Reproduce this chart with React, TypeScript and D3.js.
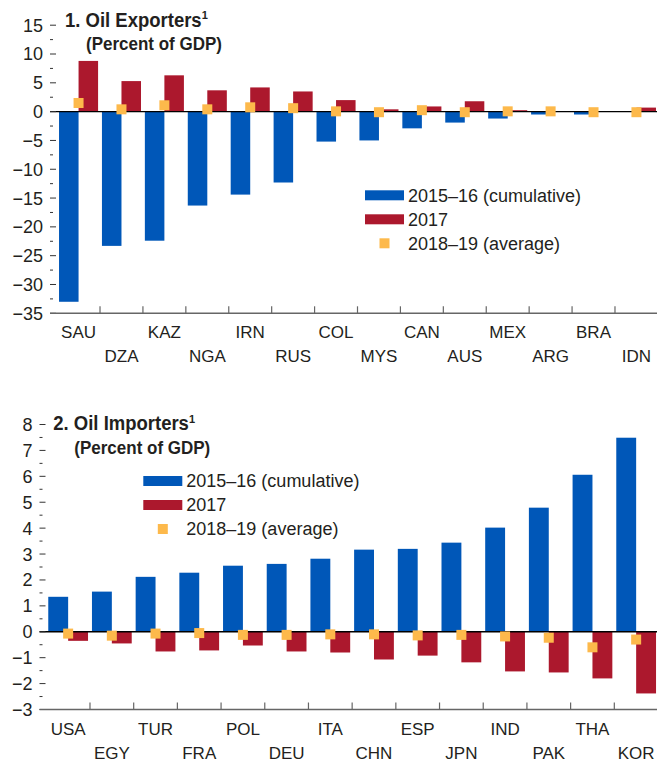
import * as d3 from 'd3';

const exporters = ['SAU', 'DZA', 'KAZ', 'NGA', 'IRN', 'RUS', 'COL', 'MYS', 'CAN', 'AUS', 'MEX', 'ARG', 'BRA', 'IDN'];
const exp1516 = [-33.0, -23.3, -22.4, -16.3, -14.4, -12.3, -5.2, -5.0, -2.9, -1.9, -1.2, -0.5, -0.5, 0];
const exp2017 = [8.8, 5.3, 6.3, 3.7, 4.2, 3.5, 2.0, 0.4, 0.9, 1.8, 0.25, 0.1, 0, 0.7];
const exp1819 = [1.5, 0.4, 1.1, 0.4, 0.75, 0.6, 0.05, -0.1, 0.25, -0.1, 0.05, 0.05, -0.1, -0.1];

const importers = ['USA', 'EGY', 'TUR', 'FRA', 'POL', 'DEU', 'ITA', 'CHN', 'ESP', 'JPN', 'IND', 'PAK', 'THA', 'KOR'];
const imp1516 = [1.35, 1.55, 2.12, 2.28, 2.55, 2.62, 2.82, 3.17, 3.2, 3.44, 4.02, 4.79, 6.06, 7.49];
const imp2017 = [-0.35, -0.45, -0.76, -0.72, -0.53, -0.76, -0.8, -1.07, -0.92, -1.18, -1.53, -1.57, -1.8, -2.38];
const imp1819 = [-0.07, -0.15, -0.07, -0.05, -0.12, -0.12, -0.1, -0.1, -0.14, -0.12, -0.18, -0.23, -0.6, -0.3];

const seriesNames = ['2015–16 (cumulative)', '2017', '2018–19 (average)'];

const BLUE = '#0057b8';
const RED = '#ac182d';
const YELLOW = '#fdb94b';
const TEXT = '#231f20';
const FONT = '"Liberation Sans", Arial, sans-serif';

interface PanelProps {
  title: string;
  cats: string[];
  a: number[];
  b: number[];
  c: number[];
  yDomain: [number, number];
  yRange: [number, number];
  xRange: [number, number];
  axisX: number;
  majorStep: number;
  legendX: number;
  legendY: number;
  titleX: number;
  titleY: number;
  labelY: number;
}

function Panel(p: PanelProps) {
  const y = d3.scaleLinear().domain(p.yDomain).range(p.yRange);
  const x = d3.scaleBand<string>().domain(p.cats).range(p.xRange).padding(0);
  const bw = x.bandwidth();
  const barW = bw * 0.455;
  const majors = d3.range(p.yDomain[0], p.yDomain[1] + 0.001, p.majorStep);
  const minors = d3.range(p.yDomain[0] + p.majorStep / 2, p.yDomain[1], p.majorStep);
  const y0 = y(0);
  const bottom = y(p.yDomain[0]);
  const rightEdge = p.xRange[1];

  return (
    <g>
      {/* bars */}
      {p.cats.map((cat, i) => {
        const cx = (x(cat) as number) + bw / 2;
        return (
          <g key={cat}>
            <rect x={cx - barW} width={barW} y={Math.min(y(p.a[i]), y0)} height={Math.abs(y(p.a[i]) - y0)} fill={BLUE} />
            <rect x={cx} width={barW} y={Math.min(y(p.b[i]), y0)} height={Math.abs(y(p.b[i]) - y0)} fill={RED} />
          </g>
        );
      })}
      <line x1={p.axisX} x2={rightEdge} y1={y0} y2={y0} stroke="#000" strokeWidth={1.3} />
      {p.cats.map((cat, i) => {
        const cx = (x(cat) as number) + bw / 2;
        return <rect key={cat + 's'} x={cx - 5} y={y(p.c[i]) - 5} width={10} height={10} fill={YELLOW} />;
      })}

      {/* y axis */}
      {majors.map((v) => (
        <g key={'m' + v}>
          <line x1={p.axisX} x2={p.axisX + 6} y1={y(v)} y2={y(v)} stroke="#333" strokeWidth={1} />
          <text x={p.axisX - 7} y={y(v)} dy="0.36em" textAnchor="end" fontSize={18} fill={TEXT} fontFamily={FONT}>
            {v < 0 ? '−' + Math.abs(v) : v}
          </text>
        </g>
      ))}
      {minors.map((v) => (
        <line key={'n' + v} x1={p.axisX} x2={p.axisX + 3} y1={y(v)} y2={y(v)} stroke="#333" strokeWidth={1} />
      ))}

      {/* x axis */}
      <line x1={p.axisX} x2={rightEdge} y1={bottom} y2={bottom} stroke="#666" strokeWidth={1.5} />
      {p.cats.slice(1).map((cat) => (
        <line key={'t' + cat} x1={x(cat) as number} x2={x(cat) as number} y1={bottom} y2={bottom - 7} stroke="#666" strokeWidth={1.2} />
      ))}
      {p.cats.map((cat, i) => (
        <text key={'l' + cat} x={(x(cat) as number) + bw / 2} y={p.labelY + (i % 2) * 24} textAnchor="middle" fontSize={17} fill={TEXT} fontFamily={FONT}>
          {cat}
        </text>
      ))}

      {/* title, a little taller than wide like the condensed original */}
      <g transform={`translate(${p.titleX},${p.titleY}) scale(1,1.05)`}>
        <text x={0} y={0} fontSize={18.5} fontWeight="bold" fill={TEXT} fontFamily={FONT}>
          {p.title}
          <tspan fontSize={11} dy={-7}>1</tspan>
        </text>
      </g>
      <g transform={`translate(${p.titleX + 21},${p.titleY + 23.5}) scale(1,1.1)`}>
        <text x={0} y={0} fontSize={17} fontWeight="bold" fill={TEXT} fontFamily={FONT}>
          (Percent of GDP)
        </text>
      </g>

      {/* legend */}
      {seriesNames.map((name, i) => {
        const ly = p.legendY + i * 24;
        return (
          <g key={name}>
            {i < 2 ? (
              <rect x={p.legendX} y={ly - 5} width={39} height={10} fill={i === 0 ? BLUE : RED} />
            ) : (
              <rect x={p.legendX + 14.5} y={ly - 5} width={10} height={10} fill={YELLOW} />
            )}
            <text x={p.legendX + 43} y={ly} dy="0.36em" fontSize={18} fill={TEXT} fontFamily={FONT}>
              {name}
            </text>
          </g>
        );
      })}
    </g>
  );
}

export default function App() {
  return (
    <svg width={657} height={766} style={{ position: 'absolute', left: 0, top: 0, background: '#fff' }}>
      <Panel
        title="1. Oil Exporters"
        cats={exporters}
        a={exp1516}
        b={exp2017}
        c={exp1819}
        yDomain={[-35, 15]}
        yRange={[313.3, 25.2]}
        xRange={[57.1, 657.9]}
        axisX={50}
        majorStep={5}
        legendX={365}
        legendY={195.3}
        titleX={65}
        titleY={26.7}
        labelY={338}
      />
      <Panel
        title="2. Oil Importers"
        cats={importers}
        a={imp1516}
        b={imp2017}
        c={imp1819}
        yDomain={[-3, 8]}
        yRange={[709.5, 424.5]}
        xRange={[46.3, 658]}
        axisX={39.5}
        majorStep={1}
        legendX={143.3}
        legendY={481}
        titleX={53.3}
        titleY={430}
        labelY={735}
      />
    </svg>
  );
}
